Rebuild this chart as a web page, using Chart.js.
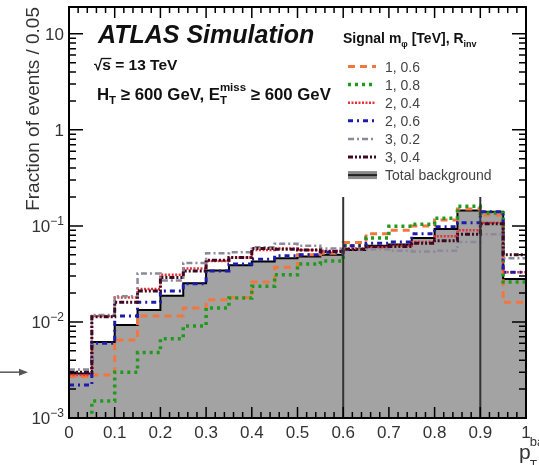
<!DOCTYPE html>
<html>
<head>
<meta charset="utf-8">
<script src="https://cdn.jsdelivr.net/npm/chart.js@4.4.0/dist/chart.umd.min.js"></script>
<style>
  html, body { margin: 0; padding: 0; background: #fff; }
  #wrap { width: 539px; height: 465px; }
</style>
</head>
<body>
<div id="wrap"><canvas id="chart"></canvas></div>
<script>
// bin edges of p_T^bal (width 0.05)
const binEdges = [0, 0.05, 0.1, 0.15, 0.2, 0.25, 0.3, 0.35, 0.4, 0.45, 0.5, 0.55, 0.6, 0.65, 0.7, 0.75, 0.8, 0.85, 0.9, 0.95, 1];

const backgroundValues = [0.0029, 0.0062, 0.0093, 0.0133, 0.0187, 0.0253, 0.0343, 0.039, 0.0425, 0.046, 0.048, 0.050, 0.056, 0.062, 0.064, 0.075, 0.093, 0.145, 0.14, 0.028];
const sig1_06 = [0.0027, 0.0028, 0.0065, 0.0115, 0.0115, 0.014, 0.017, 0.018, 0.026, 0.037, 0.050, 0.052, 0.067, 0.083, 0.090, 0.100, 0.115, 0.150, 0.130, 0.016];
const sig1_08 = [0.0007, 0.0015, 0.0030, 0.0048, 0.0067, 0.0091, 0.014, 0.0177, 0.0235, 0.031, 0.040, 0.043, 0.062, 0.075, 0.099, 0.104, 0.120, 0.160, 0.136, 0.026];
const sig2_04 = [0.0028, 0.0115, 0.018, 0.022, 0.031, 0.036, 0.043, 0.047, 0.056, 0.058, 0.056, 0.055, 0.058, 0.060, 0.062, 0.068, 0.078, 0.090, 0.108, 0.033];
const sig2_06 = [0.0022, 0.0060, 0.0115, 0.016, 0.021, 0.025, 0.034, 0.040, 0.045, 0.049, 0.050, 0.053, 0.062, 0.066, 0.068, 0.083, 0.098, 0.108, 0.140, 0.033];
const sig3_02 = [0.0032, 0.0118, 0.0185, 0.032, 0.027, 0.041, 0.052, 0.053, 0.060, 0.065, 0.062, 0.058, 0.056, 0.057, 0.055, 0.054, 0.055, 0.068, 0.082, 0.046];
const sig3_04 = [0.0030, 0.0113, 0.016, 0.021, 0.029, 0.034, 0.044, 0.047, 0.058, 0.057, 0.056, 0.054, 0.057, 0.061, 0.061, 0.066, 0.070, 0.082, 0.105, 0.050];

const signalLabels = ['1, 0.6', '1, 0.8', '2, 0.4', '2, 0.6', '3, 0.2', '3, 0.4'];
const signalSeries = [sig1_06, sig1_08, sig2_04, sig2_06, sig3_02, sig3_04];

const xTicks = [0, 0.1, 0.2, 0.3, 0.4, 0.5, 0.6, 0.7, 0.8, 0.9, 1];
const xTickLabels = ['0', '0.1', '0.2', '0.3', '0.4', '0.5', '0.6', '0.7', '0.8', '0.9', '1'];
const yTicks = [0.001, 0.01, 0.1, 1, 10];
const yTickBase = ['10', '10', '10', '1', '10'];
const yTickExp = ['\u22123', '\u22122', '\u22121', '', ''];
const yMin = 0.001;
const yMax = 19;

// selection cuts drawn as vertical lines
const cutValues = [0.6, 0.9];
const cutTop = 0.2;
const arrowValue = 0.003;

const FONT = '"Liberation Sans", Arial, Helvetica, sans-serif';
Chart.defaults.font.family = FONT;

const signalStyles = [
  { color: '#f2773f', dash: [7, 5], width: 3 },
  { color: '#1f9a1f', dash: [3, 4], width: 3.5 },
  { color: '#e53238', dash: [2, 1.5], width: 2.5 },
  { color: '#1c1cb0', dash: [5, 4, 2, 4], width: 3 },
  { color: '#8a8a9c', dash: [6, 3, 2, 3], width: 2.5 },
  { color: '#3d0a22', dash: [5, 2, 2, 2, 2, 2], width: 3 }
];

// one point per bin edge, last value repeated so the final bin closes at x = 1
const toSteps = vals => binEdges.map((x, i) => ({ x: x, y: vals[Math.min(i, vals.length - 1)] }));

const datasets = [];
datasets.push({
  label: 'Total background',
  data: toSteps(backgroundValues),
  stepped: 'before',
  borderColor: '#000',
  borderWidth: 2,
  backgroundColor: '#a3a3a3',
  fill: 'start',
  pointRadius: 0,
  order: 20
});
signalSeries.forEach((vals, i) => {
  const st = signalStyles[i];
  datasets.push({
    label: signalLabels[i],
    data: toSteps(vals),
    stepped: 'before',
    borderColor: st.color,
    borderDash: st.dash,
    borderWidth: st.width,
    borderCapStyle: 'butt',
    fill: false,
    pointRadius: 0,
    order: 16 - i
  });
});
cutValues.forEach(c => {
  datasets.push({
    label: 'cut',
    data: [{ x: c, y: yMin }, { x: c, y: cutTop }],
    borderColor: '#333',
    borderWidth: 2,
    fill: false,
    pointRadius: 0,
    order: 0
  });
});

function rich(ctx, x, y, parts) {
  parts.forEach(p => {
    ctx.font = (p.style || 'normal') + ' ' + p.size + 'px ' + FONT;
    ctx.fillText(p.t, x, y + (p.dy || 0));
    x += ctx.measureText(p.t).width;
  });
  return x;
}

const decor = {
  id: 'decor',
  afterDraw(chart) {
    const ctx = chart.ctx;
    const a = chart.chartArea;
    const xs = chart.scales.x;
    const ys = chart.scales.y;
    ctx.save();

    // ticks on all four sides, pointing inwards
    ctx.strokeStyle = '#000';
    ctx.lineWidth = 1.5;
    ctx.beginPath();
    for (let i = 0; i <= 50; i++) {
      const px = xs.getPixelForValue(i * 0.02);
      const len = (i % 5 === 0) ? 11 : 6;
      ctx.moveTo(px, a.bottom); ctx.lineTo(px, a.bottom - len);
      ctx.moveTo(px, a.top); ctx.lineTo(px, a.top + len);
    }
    for (let e = -3; e <= 1; e++) {
      for (let k = 1; k <= 9; k++) {
        const v = k * Math.pow(10, e);
        if (v > yMax) break;
        const py = ys.getPixelForValue(v);
        const len = k === 1 ? 14 : 7;
        ctx.moveTo(a.left, py); ctx.lineTo(a.left + len, py);
        ctx.moveTo(a.right, py); ctx.lineTo(a.right - len, py);
      }
    }
    ctx.stroke();

    // frame
    ctx.lineWidth = 2;
    ctx.strokeRect(a.left, a.top, a.right - a.left, a.bottom - a.top);

    // y tick labels with exponents
    ctx.fillStyle = '#333';
    ctx.textBaseline = 'alphabetic';
    yTicks.forEach((v, i) => {
      const py = ys.getPixelForValue(v);
      ctx.font = '17px ' + FONT;
      const wb = ctx.measureText(yTickBase[i]).width;
      ctx.font = '12px ' + FONT;
      const we = ctx.measureText(yTickExp[i]).width;
      const x0 = a.left - 5 - wb - we;
      rich(ctx, x0, py + 6, [
        { t: yTickBase[i], size: 17 },
        { t: yTickExp[i], size: 12, dy: -7 }
      ]);
    });

    // ATLAS label
    ctx.fillStyle = '#111';
    rich(ctx, 98, 43, [{ t: 'ATLAS Simulation', size: 25, style: 'italic bold' }]);
    const sx = rich(ctx, 94, 70, [{ t: '\u221A', size: 15, style: 'bold' }]);
    const ex = rich(ctx, sx, 70, [{ t: 's', size: 15.5, style: 'bold' }]);
    ctx.strokeStyle = '#111';
    ctx.lineWidth = 1.3;
    ctx.beginPath();
    ctx.moveTo(sx - 1, 58.5); ctx.lineTo(ex + 0.5, 58.5);
    ctx.stroke();
    rich(ctx, ex, 70, [{ t: ' = 13 TeV', size: 15.5, style: 'bold' }]);

    let hx = rich(ctx, 97, 100, [
      { t: 'H', size: 16.8, style: 'bold' },
      { t: 'T', size: 11.5, style: 'bold', dy: 4 },
      { t: ' \u2265 600 GeV, E', size: 16.8, style: 'bold' }
    ]);
    rich(ctx, hx, 100, [{ t: 'T', size: 11.5, style: 'bold', dy: 4 }]);
    hx = rich(ctx, hx, 100, [{ t: 'miss', size: 11.5, style: 'bold', dy: -9 }]);
    rich(ctx, hx, 100, [{ t: ' \u2265 600 GeV', size: 16.8, style: 'bold' }]);

    // legend
    rich(ctx, 343, 43, [
      { t: 'Signal m', size: 14, style: 'bold' },
      { t: '\u03C6', size: 9, style: 'bold', dy: 4 },
      { t: ' [TeV], R', size: 14, style: 'bold' },
      { t: 'inv', size: 9, style: 'bold', dy: 4 }
    ]);
    const ly0 = 66.5;
    const lstep = 18.1;
    signalLabels.forEach((lab, i) => {
      const st = signalStyles[i];
      const y = ly0 + i * lstep;
      ctx.save();
      ctx.strokeStyle = st.color;
      ctx.lineWidth = st.width;
      ctx.setLineDash(st.dash);
      ctx.beginPath();
      ctx.moveTo(348, y); ctx.lineTo(376, y);
      ctx.stroke();
      ctx.restore();
      ctx.fillStyle = '#444';
      rich(ctx, 385, y + 5, [{ t: lab, size: 14 }]);
    });
    const by = ly0 + 6 * lstep;
    ctx.fillStyle = '#8a8a8a';
    ctx.fillRect(348, by - 4, 29, 8);
    ctx.strokeStyle = '#222';
    ctx.lineWidth = 2;
    ctx.beginPath();
    ctx.moveTo(348, by); ctx.lineTo(377, by);
    ctx.stroke();
    ctx.fillStyle = '#444';
    rich(ctx, 385, by + 5, [{ t: 'Total background', size: 14 }]);

    // arrow outside the frame
    const ay = ys.getPixelForValue(arrowValue);
    ctx.strokeStyle = '#555';
    ctx.fillStyle = '#555';
    ctx.lineWidth = 1.5;
    ctx.beginPath();
    ctx.moveTo(0, ay); ctx.lineTo(20, ay);
    ctx.stroke();
    ctx.beginPath();
    ctx.moveTo(28, ay); ctx.lineTo(19, ay - 3.5); ctx.lineTo(19, ay + 3.5); ctx.closePath();
    ctx.fill();

    // x axis title
    ctx.fillStyle = '#333';
    const px = rich(ctx, 519, 459, [{ t: 'p', size: 21 }]);
    rich(ctx, px - 1, 469, [{ t: 'T', size: 12 }]);
    rich(ctx, px - 1, 446, [{ t: 'bal', size: 13 }]);

    ctx.restore();
  }
};

new Chart(document.getElementById('chart'), {
  type: 'line',
  data: { datasets: datasets },
  options: {
    responsive: true,
    maintainAspectRatio: false,
    animation: false,
    layout: { padding: { top: 7, right: 13, left: 0, bottom: 0 } },
    plugins: { legend: { display: false }, tooltip: { enabled: false } },
    scales: {
      x: {
        type: 'linear', min: 0, max: 1,
        grid: { display: false, drawTicks: false },
        border: { display: false },
        afterBuildTicks: s => { s.ticks = xTicks.map(v => ({ value: v })); },
        afterFit: s => { s.height = 47; },
        ticks: {
          autoSkip: false, maxRotation: 0, padding: 5, color: '#333',
          font: { size: 17 },
          callback: (v, i) => xTickLabels[i]
        }
      },
      y: {
        type: 'logarithmic', min: yMin, max: yMax,
        grid: { display: false, drawTicks: false },
        border: { display: false },
        ticks: { display: false },
        afterFit: s => { s.width = 69; },
        title: {
          display: true, text: 'Fraction of events / 0.05', align: 'end',
          color: '#333', font: { size: 19 }, padding: { top: 22, bottom: 0 }
        }
      }
    }
  },
  plugins: [decor]
});
</script>
</body>
</html>
